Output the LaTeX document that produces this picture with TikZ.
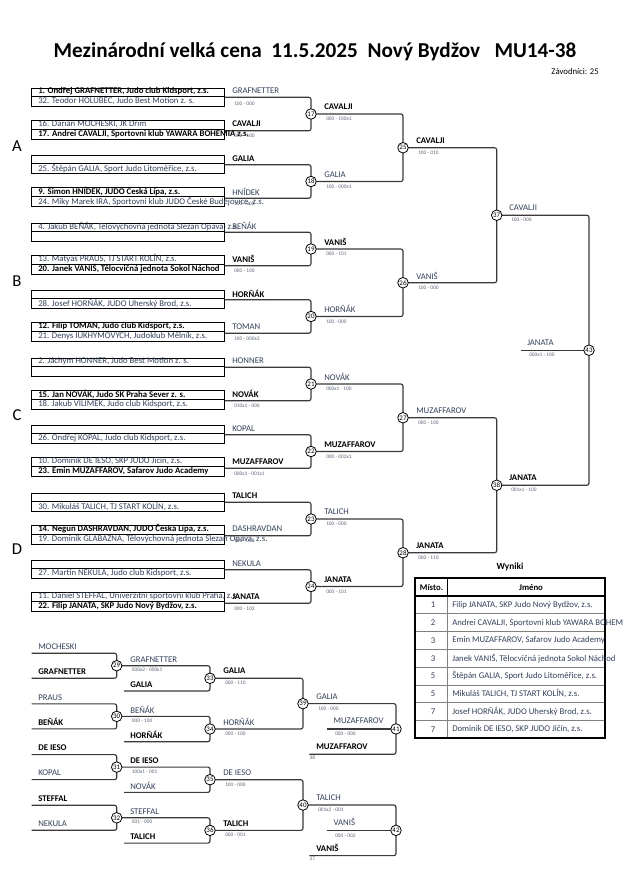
\documentclass[tikz,border=0pt]{standalone}
\usepackage{fontspec}
\setmainfont{Carlito}
\usetikzlibrary{backgrounds}
\definecolor{txt}{HTML}{33405A}
\definecolor{scc}{HTML}{5A6478}
\definecolor{brk}{HTML}{3A3A3A}
\newcommand\B[1]{{\color{black}\bfseries #1}}
\tikzset{
 nm/.style={anchor=west, inner sep=0pt, text=txt, font=\fontsize{6.55}{7}\selectfont},
 sc/.style={anchor=west, inner sep=0pt, text=scc, font=\fontsize{4}{4.5}\selectfont},
 circ/.style={circle, draw=black, line width=0.6pt, fill=white, minimum size=7.9pt, inner sep=0pt, font=\fontsize{5.2}{5.5}\selectfont},
 boxl/.style={draw=black, line width=0.55pt},
 br/.style={draw=brk, line width=0.85pt, rounded corners=1.6pt},
 pool/.style={anchor=center, inner sep=0pt, font=\fontsize{12.5}{14}\selectfont},
}
% first-round pairs
\newcommand\toppair[6]{%
  \draw[boxl] (31.7,#2-26) rectangle (224,#2-18);
  \draw[boxl] (31.7,#2-18) rectangle (224,#2-8);
  \node[nm] (e#1a) at (38,#2-22.5) {#3};
  \node[nm] (e#1b) at (38,#2-13) {#4};
  \node[nm] (l#1a) at (232,#2-23) {#5};
  \node[sc] (s#1a) at (234,#2-10.5) {#6};
}
\newcommand\botpair[6]{%
  \draw[boxl] (31.7,#2+6) rectangle (224,#2+15);
  \draw[boxl] (31.7,#2+15) rectangle (224,#2+25);
  \node[nm] (e#1c) at (38,#2+10) {#3};
  \node[nm] (e#1d) at (38,#2+20) {#4};
  \node[nm] (l#1b) at (232,#2+10) {#5};
  \node[sc] (s#1b) at (234,#2+22) {#6};
}
\newcommand\rone[2]{%
  \node[circ] (m#1) at (311,#2) {#1};
  \coordinate (u#1) at (224,#2-16.7);
  \coordinate (d#1) at (224,#2+16.7);
  \begin{scope}[on background layer]
  \draw[br] (u#1) -| (m#1.center) |- (d#1);
  \end{scope}
}
\newcommand\join[5]{%
  \node[circ] (m#3) at (#4,#5) {#3};
  \begin{scope}[on background layer]
  \draw[br] (m#1.center) -| (m#3.center) |- (m#2.center);
  \end{scope}
}
\newcommand\lab[5]{%
  \node[nm] (w#1) at (#2,#3-7.2) {#4};
  \node[sc] (v#1) at (#2+2,#3+4.8) {#5};
}
% repechage
\newcommand\rep[4]{%
  \node[circ] (m#1) at (116.7,#2) {#1};
  \coordinate (a#1) at (31.7,#2-12.5);
  \coordinate (b#1) at (31.7,#2+12.5);
  \node[nm] (p#1) at (38,#2-19) {#3};
  \node[nm] (q#1) at (38,#2+5.6) {#4};
  \begin{scope}[on background layer]
  \draw[br] (a#1) -| (m#1.center) |- (b#1);
  \end{scope}
}
\newcommand\reptwo[6]{%
  \node[circ] (m#1) at (210,#3+12.6) {#1};
  \coordinate (b#1) at (124,#3+25.3);
  \node[nm] (p#1) at (130,#3-6.4) {#4};
  \node[sc] (o#1) at (131.7,#3+4.3) {#5};
  \node[nm] (q#1) at (130,#3+18.6) {#6};
  \begin{scope}[on background layer]
  \draw[br] (m#2.center) -| (m#1.center) |- (b#1);
  \end{scope}
}
\newcommand\repfour[7]{%
  \node[circ] (m#1) at (396,#3+25.3) {#1};
  \coordinate (b#1) at (309.3,#3+50.6);
  \coordinate (c#1) at (327.3,#3+25.3);
  \node[nm] (p#1) at (333.3,#3+17.3) {#4};
  \node[sc] (o#1) at (335,#3+30.3) {#5};
  \node[nm] (q#1) at (316,#3+43.3) {#6};
  \node[sc] (k#1) at (309.3,#3+53.6) {#7};
  \begin{scope}[on background layer]
  \draw[br] (m#2.center) -| (m#1.center) |- (b#1);
  \draw[br] (c#1) -- (m#1.center);
  \end{scope}
}
\begin{document}
\begin{tikzpicture}[x=0.75pt,y=-0.75pt]
\useasboundingbox (0,0) rectangle (630,891);
\begin{scope}[on background layer]
\fill[white] (0,0) rectangle (630,891);
\end{scope}

\node[inner sep=0pt, font=\bfseries\fontsize{15.9}{18}\selectfont] (title) at (315,52) {Mezinárodní velká cena\ \ 11.5.2025\ \ Nový Bydžov\ \ \ MU14-38};
\node[nm, anchor=east, text=black] (zav) at (599,72) {Závodníci: 25};

\node[pool] (pA) at (17,146) {A};
\node[pool] (pB) at (17,281) {B};
\node[pool] (pC) at (17,415) {C};
\node[pool] (pD) at (17,549) {D};

% pool A
\toppair{17}{114}{\B{1. Ondřej GRAFNETTER, Judo club Kidsport, z.s.}}{32. Teodor HOLUBEC, Judo Best Motion z. s.}{GRAFNETTER}{100 - 000}
\botpair{17}{114}{16. Darian MOCHESKI, JK Drim}{\B{17. Andrei CAVALJI, Sportovni klub YAWARA BOHEMIA z.s.}}{\B{CAVALJI}}{000 - 100}
\rone{17}{114}
\toppair{18}{181.5}{}{25. Štěpán GALIA, Sport Judo Litoměřice, z.s.}{\B{GALIA}}{}
\botpair{18}{181.5}{\B{9. Šimon HNÍDEK, JUDO Česká Lípa, z.s.}}{24. Miky Marek IRA, Sportovni klub JUDO České Budějovice, z.s.}{HNÍDEK}{100 - 000}
\rone{18}{181.5}
% pool B
\toppair{19}{249}{4. Jakub BEŇÁK, Tělovýchovná jednota Slezan Opava, z.s.}{}{BEŇÁK}{}
\botpair{19}{249}{13. Matyáš PRAUS, TJ START KOLÍN, z.s.}{\B{20. Janek VANIŠ, Tělocvičná jednota Sokol Náchod}}{\B{VANIŠ}}{000 - 100}
\rone{19}{249}
\toppair{20}{316.5}{}{28. Josef HORŇÁK, JUDO Uherský Brod, z.s.}{\B{HORŇÁK}}{}
\botpair{20}{316.5}{\B{12. Filip TOMAN, Judo club Kidsport, z.s.}}{21. Denys IUKHYMOVYCH, Judoklub Mělník, z.s.}{TOMAN}{100 - 000x3}
\rone{20}{316.5}
% pool C
\toppair{21}{384}{2. Jáchym HONNER, Judo Best Motion z. s.}{}{HONNER}{}
\botpair{21}{384}{\B{15. Jan NOVÁK, Judo SK Praha Sever z. s.}}{18. Jakub VILÍMEK, Judo club Kidsport, z.s.}{\B{NOVÁK}}{010x1 - 000}
\rone{21}{384}
\toppair{22}{451.5}{}{26. Ondřej KOPAL, Judo club Kidsport, z.s.}{KOPAL}{}
\botpair{22}{451.5}{10. Dominik DE IESO, SKP JUDO Jičín, z.s.}{\B{23. Emin MUZAFFAROV, Safarov Judo Academy}}{\B{MUZAFFAROV}}{000x1 - 001x1}
\rone{22}{451.5}
% pool D
\toppair{23}{519}{}{30. Mikuláš TALICH, TJ START KOLÍN, z.s.}{\B{TALICH}}{}
\botpair{23}{519}{\B{14. Negun DASHRAVDAN, JUDO Česká Lípa, z.s.}}{19. Dominik GLABAZŇA, Tělovýchovná jednota Slezan Opava, z.s.}{DASHRAVDAN}{100 - 000}
\rone{23}{519}
\toppair{24}{586.5}{}{27. Martin NEKULA, Judo club Kidsport, z.s.}{NEKULA}{}
\botpair{24}{586.5}{11. Daniel STEFFAL, Univerzitní sportovní klub Praha, z.s.}{\B{22. Filip JANATA, SKP Judo Nový Bydžov, z.s.}}{\B{JANATA}}{000 - 102}
\rone{24}{586.5}

% later rounds
\join{17}{18}{25}{403}{147.75}
\join{19}{20}{26}{403}{282.75}
\join{21}{22}{27}{403}{417.75}
\join{23}{24}{28}{403}{552.75}
\join{25}{26}{37}{496.7}{215.25}
\join{27}{28}{38}{496.7}{485.25}
\join{37}{38}{43}{589}{350.25}
\coordinate (fin) at (521,350.25);
\begin{scope}[on background layer]
\draw[br] (fin) -- (m43.center);
\end{scope}

\lab{17}{324}{114}{\B{CAVALJI}}{000 - 100x1}
\lab{18}{324}{181.5}{GALIA}{100 - 000x1}
\lab{19}{324}{249}{\B{VANIŠ}}{000 - 101}
\lab{20}{324}{316.5}{HORŇÁK}{100 - 000}
\lab{21}{324}{384}{NOVÁK}{000x1 - 100}
\lab{22}{324}{451.5}{\B{MUZAFFAROV}}{000 - 002x1}
\lab{23}{324}{519}{TALICH}{100 - 000}
\lab{24}{324}{586.5}{\B{JANATA}}{000 - 101}
\lab{25}{416}{147.75}{\B{CAVALJI}}{100 - 010}
\lab{26}{416}{282.75}{VANIŠ}{100 - 000}
\lab{27}{416}{417.75}{MUZAFFAROV}{000 - 100}
\lab{28}{416}{552.75}{\B{JANATA}}{000 - 110}
\lab{37}{509}{215.25}{CAVALJI}{100 - 000}
\lab{38}{509}{485.25}{\B{JANATA}}{001x1 - 100}
\lab{43}{527}{350.25}{JANATA}{000x1 - 100}

% results table
\node[inner sep=0pt, font=\bfseries\fontsize{7}{8}\selectfont] (wyn) at (510,567) {Wyniki};
\foreach \yy in {613.8,631.6,649.4,667.2,684.95,702.7,720.5}
  \draw[gray, line width=0.6pt] (415,\yy) -- (605,\yy);
\draw[gray, line width=0.6pt] (447.3,596) -- (447.3,738.3);
\draw[black, line width=0.9pt] (415,596) -- (605,596);
\draw[black, line width=0.9pt] (447.3,578.3) -- (447.3,596);
\draw[black, line width=1.4pt] (415,578.3) rectangle (605,738.3);
\node[nm, anchor=center, text=black, font=\bfseries\fontsize{6.55}{7}\selectfont] (hm) at (431.5,587.2) {Místo.};
\node[nm, anchor=center, text=black, font=\bfseries\fontsize{6.55}{7}\selectfont] (hj) at (531,587.2) {Jméno};
\node[nm, anchor=center] (r1) at (433,604.9) {1};
\node[nm, anchor=center] (r2) at (433,622.7) {2};
\node[nm, anchor=center] (r3) at (433,640.5) {3};
\node[nm, anchor=center] (r4) at (433,658.3) {3};
\node[nm, anchor=center] (r5) at (433,676.1) {5};
\node[nm, anchor=center] (r6) at (433,693.8) {5};
\node[nm, anchor=center] (r7) at (433,711.6) {7};
\node[nm, anchor=center] (r8) at (433,729.4) {7};
\node[nm] (n1) at (452,604.9) {Filip JANATA, SKP Judo Nový Bydžov, z.s.};
\node[nm] (n2) at (452,622.7) {Andrei CAVALJI, Sportovni klub YAWARA BOHEM};
\node[nm] (n3) at (452,640.5) {Emin MUZAFFAROV, Safarov Judo Academy};
\node[nm] (n4) at (452,658.3) {Janek VANIŠ, Tělocvičná jednota Sokol Náchod};
\node[nm] (n5) at (452,676.1) {Štěpán GALIA, Sport Judo Litoměřice, z.s.};
\node[nm] (n6) at (452,693.8) {Mikuláš TALICH, TJ START KOLÍN, z.s.};
\node[nm] (n7) at (452,711.6) {Josef HORŇÁK, JUDO Uherský Brod, z.s.};
\node[nm] (n8) at (452,729.4) {Dominik DE IESO, SKP JUDO Jičín, z.s.};

% repechage
\rep{29}{665.7}{MOCHESKI}{\B{GRAFNETTER}}
\rep{30}{716.4}{PRAUS}{\B{BEŇÁK}}
\rep{31}{767.1}{\B{DE IESO}}{KOPAL}
\rep{32}{817.8}{\B{STEFFAL}}{NEKULA}
\reptwo{33}{29}{665.7}{GRAFNETTER}{000x2 - 000x1}{\B{GALIA}}
\reptwo{34}{30}{716.4}{BEŇÁK}{000 - 100}{\B{HORŇÁK}}
\reptwo{35}{31}{767.1}{\B{DE IESO}}{100x1 - 001}{NOVÁK}
\reptwo{36}{32}{817.8}{STEFFAL}{001 - 000}{\B{TALICH}}
\lab{33}{223}{678.3}{\B{GALIA}}{000 - 110}
\lab{34}{223}{729}{HORŇÁK}{000 - 100}
\lab{35}{223}{779.7}{DE IESO}{100 - 000}
\lab{36}{223}{830.4}{\B{TALICH}}{000 - 001}
\join{33}{34}{39}{303}{703.65}
\join{35}{36}{40}{303}{805.05}
\lab{39}{316}{703.65}{GALIA}{100 - 000}
\lab{40}{316}{805.05}{TALICH}{001x2 - 001}
\repfour{41}{39}{703.65}{MUZAFFAROV}{000 - 000}{\B{MUZAFFAROV}}{38}
\repfour{42}{40}{805.05}{VANIŠ}{000 - 002}{\B{VANIŠ}}{37}
\end{tikzpicture}
\end{document}
